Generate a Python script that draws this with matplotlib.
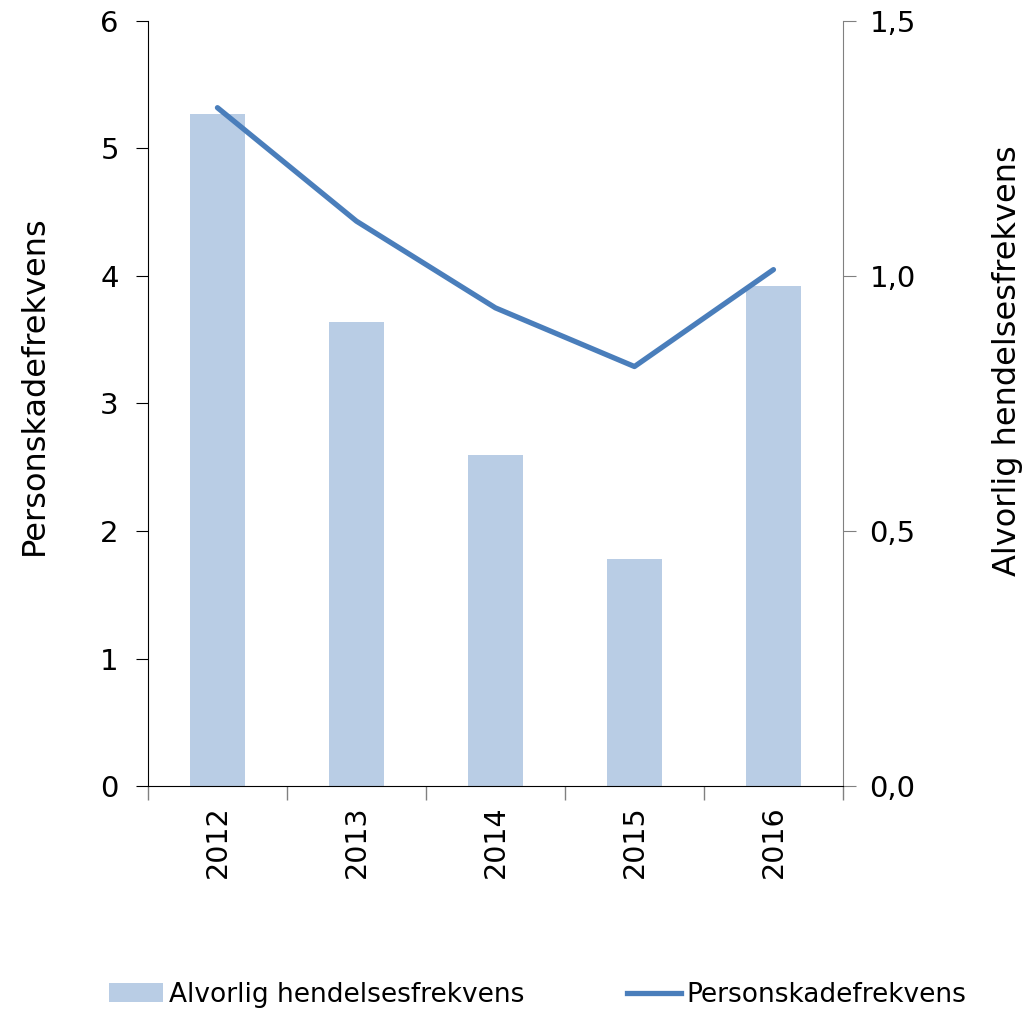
import numpy as np
import matplotlib
matplotlib.use("Agg")
import matplotlib.pyplot as plt
from matplotlib.patches import Patch
from matplotlib.lines import Line2D

# data
years = ["2012", "2013", "2014", "2015", "2016"]
alvorlig = [1.318, 0.91, 0.65, 0.445, 0.98]      # right axis (bars)
personskade = [5.32, 4.43, 3.75, 3.29, 4.05]     # left axis (line)

bar_color = "#B9CDE5"
line_color = "#4A7EBB"

plt.rcParams["font.family"] = ["DejaVu Sans"]

fig = plt.figure(figsize=(10.26, 10.09), dpi=100)
ax = fig.add_axes([0.1442, 0.221, 0.6774, 0.7582])
ax2 = ax.twinx()

x = np.arange(len(years))
ax2.bar(x, alvorlig, width=0.4, color=bar_color, zorder=1)
ax.plot(x, personskade, color=line_color, lw=3.8, solid_capstyle="round", zorder=3)

# line on top of bars
ax.set_zorder(ax2.get_zorder() + 1)
ax.patch.set_visible(False)

ax.set_xlim(-0.5, len(years) - 0.5)
ax.set_ylim(0, 6)
ax2.set_ylim(0, 1.5)

ax.set_yticks(range(0, 7))
ax.set_yticklabels([str(v) for v in range(0, 7)])
r_ticks = [0.0, 0.5, 1.0, 1.5]
ax2.set_yticks(r_ticks)
ax2.set_yticklabels([f"{v:.1f}".replace(".", ",") for v in r_ticks])

# category labels between boundary ticks
ax.set_xticks(np.arange(-0.5, len(years), 1.0))
ax.set_xticklabels([])
ax.set_xticks(x, minor=True)
ax.set_xticklabels(years, minor=True, rotation=90, fontsize=20.5)
ax.tick_params(axis="x", which="minor", length=0, pad=14)
ax.tick_params(axis="x", which="major", direction="out", length=10, width=1, color="#808080")

for s in ["top", "right"]:
    ax.spines[s].set_visible(False)
for s in ["top", "left", "bottom"]:
    ax2.spines[s].set_visible(False)
ax.spines["left"].set_color("black")
ax.spines["bottom"].set_color("black")
ax2.spines["right"].set_color("#808080")

ax.tick_params(axis="y", direction="out", length=9, labelsize=21, pad=12)
ax2.tick_params(axis="y", direction="out", length=9, labelsize=21, pad=10, color="#808080")

ax.set_ylabel("Personskadefrekvens", fontsize=23)
ax2.set_ylabel("Alvorlig hendelsesfrekvens", fontsize=23, rotation=90)
ax.yaxis.set_label_coords(-0.141, 0.524)
ax2.yaxis.set_label_coords(1.214, 0.556)

handles = [Patch(facecolor=bar_color, edgecolor="none"),
           Line2D([0], [0], color=line_color, lw=3.8)]
fig.legend(handles, ["Alvorlig hendelsesfrekvens", "Personskadefrekvens"],
           loc="center", bbox_to_anchor=(0.524, 0.014), ncol=2, frameon=False,
           fontsize=19, columnspacing=3.9, handlelength=2.05, handletextpad=0.2)

fig.savefig("out.png", dpi=100)
